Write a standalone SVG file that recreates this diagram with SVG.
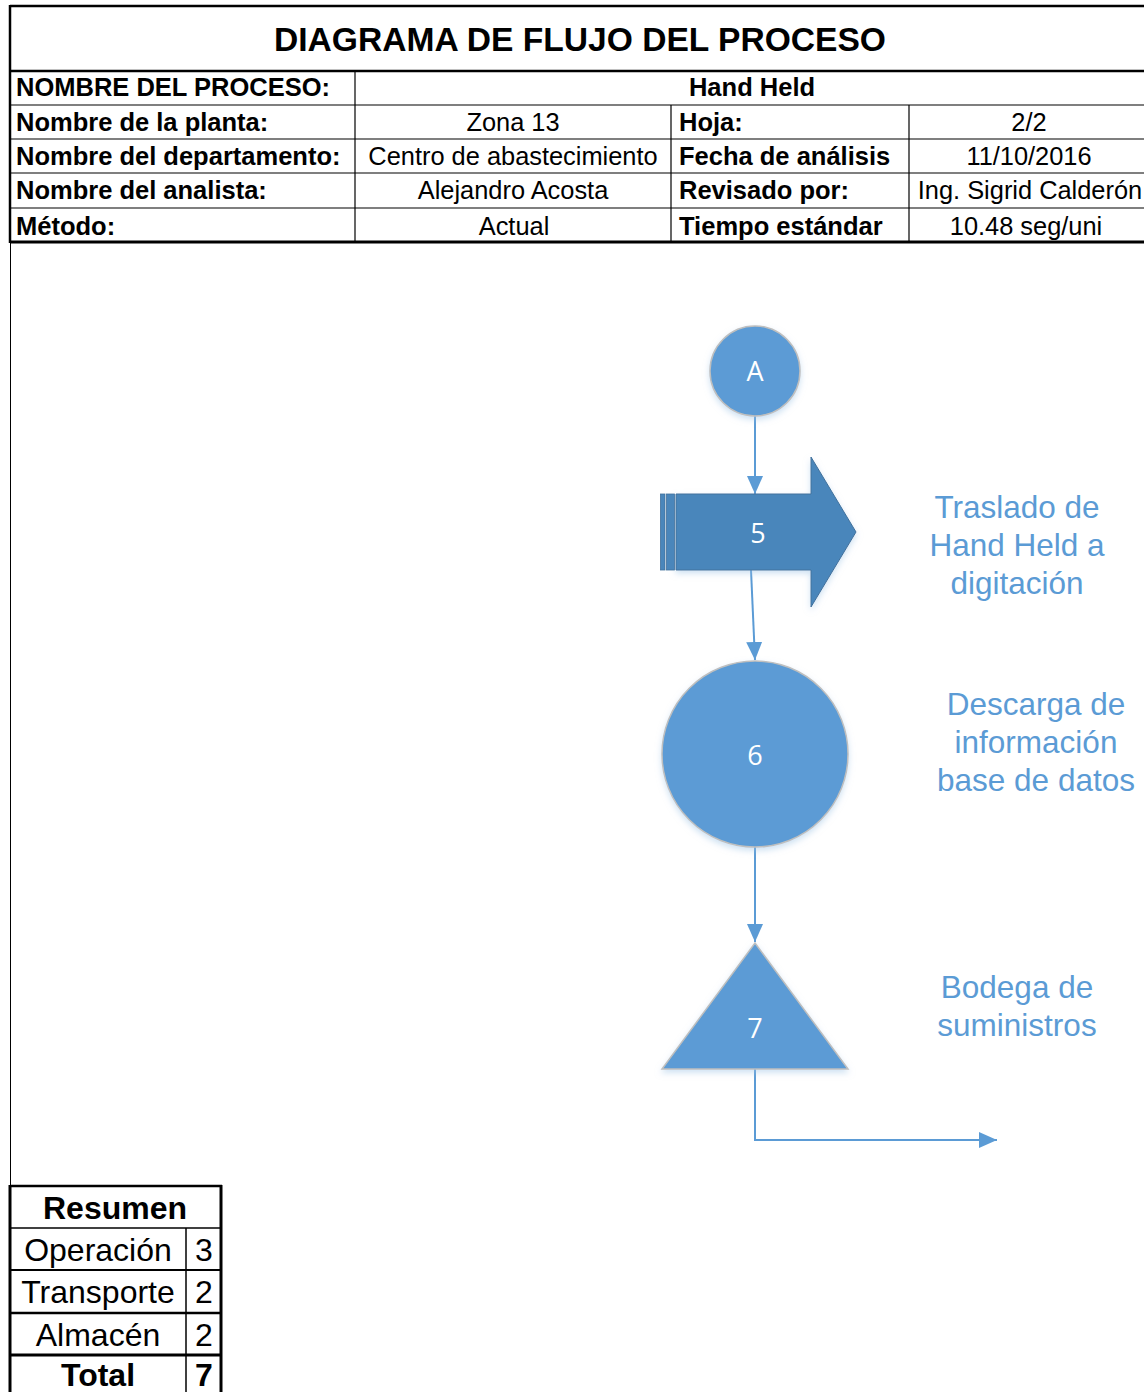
<svg xmlns="http://www.w3.org/2000/svg" width="1144" height="1392" viewBox="0 0 1144 1392">
<style>
.hb{font-family:"Liberation Sans",Arial,sans-serif;font-weight:bold;font-size:25.5px;fill:#000}
.hr{font-family:"Liberation Sans",Arial,sans-serif;font-size:25.4px;fill:#000}
.ttl{font-family:"Liberation Sans",Arial,sans-serif;font-weight:bold;font-size:33.6px;fill:#000}
.sb{font-family:"Liberation Sans",Arial,sans-serif;font-weight:bold;font-size:32px;fill:#000}
.sr{font-family:"Liberation Sans",Arial,sans-serif;font-size:32px;fill:#000}
.lbl{font-family:"Liberation Sans",Arial,sans-serif;font-size:31.5px;fill:#5B9BD5;text-anchor:middle}
.num{font-family:"Open Sans","Liberation Sans",sans-serif;font-size:27px;fill:#fff;text-anchor:middle}
.thin{stroke:#000;stroke-width:1.2;fill:none}
.thick{stroke:#000;stroke-width:2.5;fill:none}
.conn{stroke:#5B9BD5;stroke-width:2;fill:none}
.shape{fill:#5B9BD5;stroke:#BFBFBF;stroke-width:1.5}
</style>
<defs>
<marker id="ahb" viewBox="0 0 18 16" refX="18" refY="8" markerWidth="18" markerHeight="16" markerUnits="userSpaceOnUse" orient="auto">
<path d="M0,0 L18,8 L0,16 Z" fill="#5B9BD5"/>
</marker>
<filter id="sh" x="-20%" y="-20%" width="140%" height="150%">
<feDropShadow dx="0" dy="3" stdDeviation="3" flood-color="#9DC3E6" flood-opacity="0.5"/>
</filter>
</defs>
<rect width="1144" height="1392" fill="#fff"/>

<g id="header">
<line x1="10" y1="6" x2="1144" y2="6" class="thick"/>
<line x1="10" y1="5" x2="10" y2="243" class="thick"/>
<line x1="10" y1="71" x2="1144" y2="71" class="thick"/>
<line x1="10" y1="105" x2="1144" y2="105" class="thin"/>
<line x1="10" y1="139" x2="1144" y2="139" class="thin"/>
<line x1="10" y1="173" x2="1144" y2="173" class="thin"/>
<line x1="10" y1="208" x2="1144" y2="208" class="thin"/>
<line x1="10" y1="242" x2="1144" y2="242" stroke="#000" stroke-width="3"/>
<line x1="355" y1="71" x2="355" y2="242" class="thin"/>
<line x1="671" y1="105" x2="671" y2="242" class="thin"/>
<line x1="909" y1="105" x2="909" y2="242" class="thin"/>
<text x="580" y="51" class="ttl" text-anchor="middle">DIAGRAMA DE FLUJO DEL PROCESO</text>
<text x="16" y="96" class="hb">NOMBRE DEL PROCESO:</text>
<text x="752" y="96" class="hb" text-anchor="middle">Hand Held</text>
<text x="16" y="131" class="hb">Nombre de la planta:</text>
<text x="513" y="131" class="hr" text-anchor="middle">Zona 13</text>
<text x="679" y="131" class="hb">Hoja:</text>
<text x="1029" y="131" class="hr" text-anchor="middle">2/2</text>
<text x="16" y="165" class="hb">Nombre del departamento:</text>
<text x="513" y="165" class="hr" text-anchor="middle">Centro de abastecimiento</text>
<text x="679" y="165" class="hb">Fecha de análisis</text>
<text x="1029" y="165" class="hr" text-anchor="middle">11/10/2016</text>
<text x="16" y="199" class="hb">Nombre del analista:</text>
<text x="513" y="199" class="hr" text-anchor="middle">Alejandro Acosta</text>
<text x="679" y="199" class="hb">Revisado por:</text>
<text x="1030" y="199" class="hr" text-anchor="middle">Ing. Sigrid Calderón</text>
<text x="16" y="235" class="hb">Método:</text>
<text x="514" y="235" class="hr" text-anchor="middle">Actual</text>
<text x="679" y="235" class="hb">Tiempo estándar</text>
<text x="1026" y="235" class="hr" text-anchor="middle">10.48 seg/uni</text>
</g>

<line x1="10.5" y1="242" x2="10.5" y2="1186" stroke="#000" stroke-width="1"/>

<g id="connectors">
<line x1="755" y1="416" x2="755" y2="494" class="conn" marker-end="url(#ahb)"/>
<line x1="751" y1="570" x2="755" y2="660" class="conn" marker-end="url(#ahb)"/>
<line x1="755" y1="847" x2="755" y2="942" class="conn" marker-end="url(#ahb)"/>
<polyline points="755,1069 755,1140 997,1140" class="conn" marker-end="url(#ahb)"/>
</g>

<g id="nodeA">
<circle cx="755" cy="371" r="45" class="shape" filter="url(#sh)"/>
<text x="755" y="381" class="num">A</text>
</g>

<g id="node5">
<path d="M676,494 L811,494 L811,457 L856,532 L811,607 L811,570 L676,570 Z" fill="#4A86BB" stroke="#41719C" stroke-width="1" filter="url(#sh)"/>
<rect x="660.5" y="494" width="4.5" height="76" fill="#4A86BB" stroke="#41719C" stroke-width="0.8"/>
<rect x="666.5" y="494" width="8" height="76" fill="#4A86BB" stroke="#41719C" stroke-width="0.8"/>
<text x="758" y="543" class="num">5</text>
</g>
<g id="label5">
<text class="lbl"><tspan x="1017" y="518">Traslado de</tspan><tspan x="1017" y="556">Hand Held a</tspan><tspan x="1017" y="594">digitación</tspan></text>
</g>

<g id="node6">
<circle cx="755" cy="754" r="93" class="shape" filter="url(#sh)"/>
<text x="755" y="765" class="num">6</text>
</g>
<g id="label6">
<text class="lbl"><tspan x="1036" y="715">Descarga de</tspan><tspan x="1036" y="753">información</tspan><tspan x="1036" y="791">base de datos</tspan></text>
</g>

<g id="node7">
<path d="M755,943 L848,1069 L662,1069 Z" class="shape" filter="url(#sh)"/>
<text x="755" y="1038" class="num">7</text>
</g>
<g id="label7">
<text class="lbl"><tspan x="1017" y="998">Bodega de</tspan><tspan x="1017" y="1036">suministros</tspan></text>
</g>

<g id="summary">
<line x1="10" y1="1186" x2="222" y2="1186" class="thick"/>
<line x1="10" y1="1185" x2="10" y2="1392" stroke="#000" stroke-width="3"/>
<line x1="221" y1="1185" x2="221" y2="1392" stroke="#000" stroke-width="3"/>
<line x1="10" y1="1228" x2="221" y2="1228" stroke="#000" stroke-width="1.5"/>
<line x1="10" y1="1270" x2="221" y2="1270" stroke="#000" stroke-width="2"/>
<line x1="10" y1="1313" x2="221" y2="1313" stroke="#000" stroke-width="2.5"/>
<line x1="10" y1="1355" x2="221" y2="1355" stroke="#000" stroke-width="3"/>
<line x1="186" y1="1228" x2="186" y2="1392" stroke="#000" stroke-width="1.5"/>
<text x="115" y="1219" class="sb" text-anchor="middle">Resumen</text>
<text x="98" y="1261" class="sr" text-anchor="middle">Operación</text>
<text x="204" y="1261" class="sr" text-anchor="middle">3</text>
<text x="98" y="1303" class="sr" text-anchor="middle">Transporte</text>
<text x="204" y="1303" class="sr" text-anchor="middle">2</text>
<text x="98" y="1346" class="sr" text-anchor="middle">Almacén</text>
<text x="204" y="1346" class="sr" text-anchor="middle">2</text>
<text x="98" y="1386" class="sb" text-anchor="middle">Total</text>
<text x="204" y="1386" class="sb" text-anchor="middle">7</text>
</g>
</svg>
